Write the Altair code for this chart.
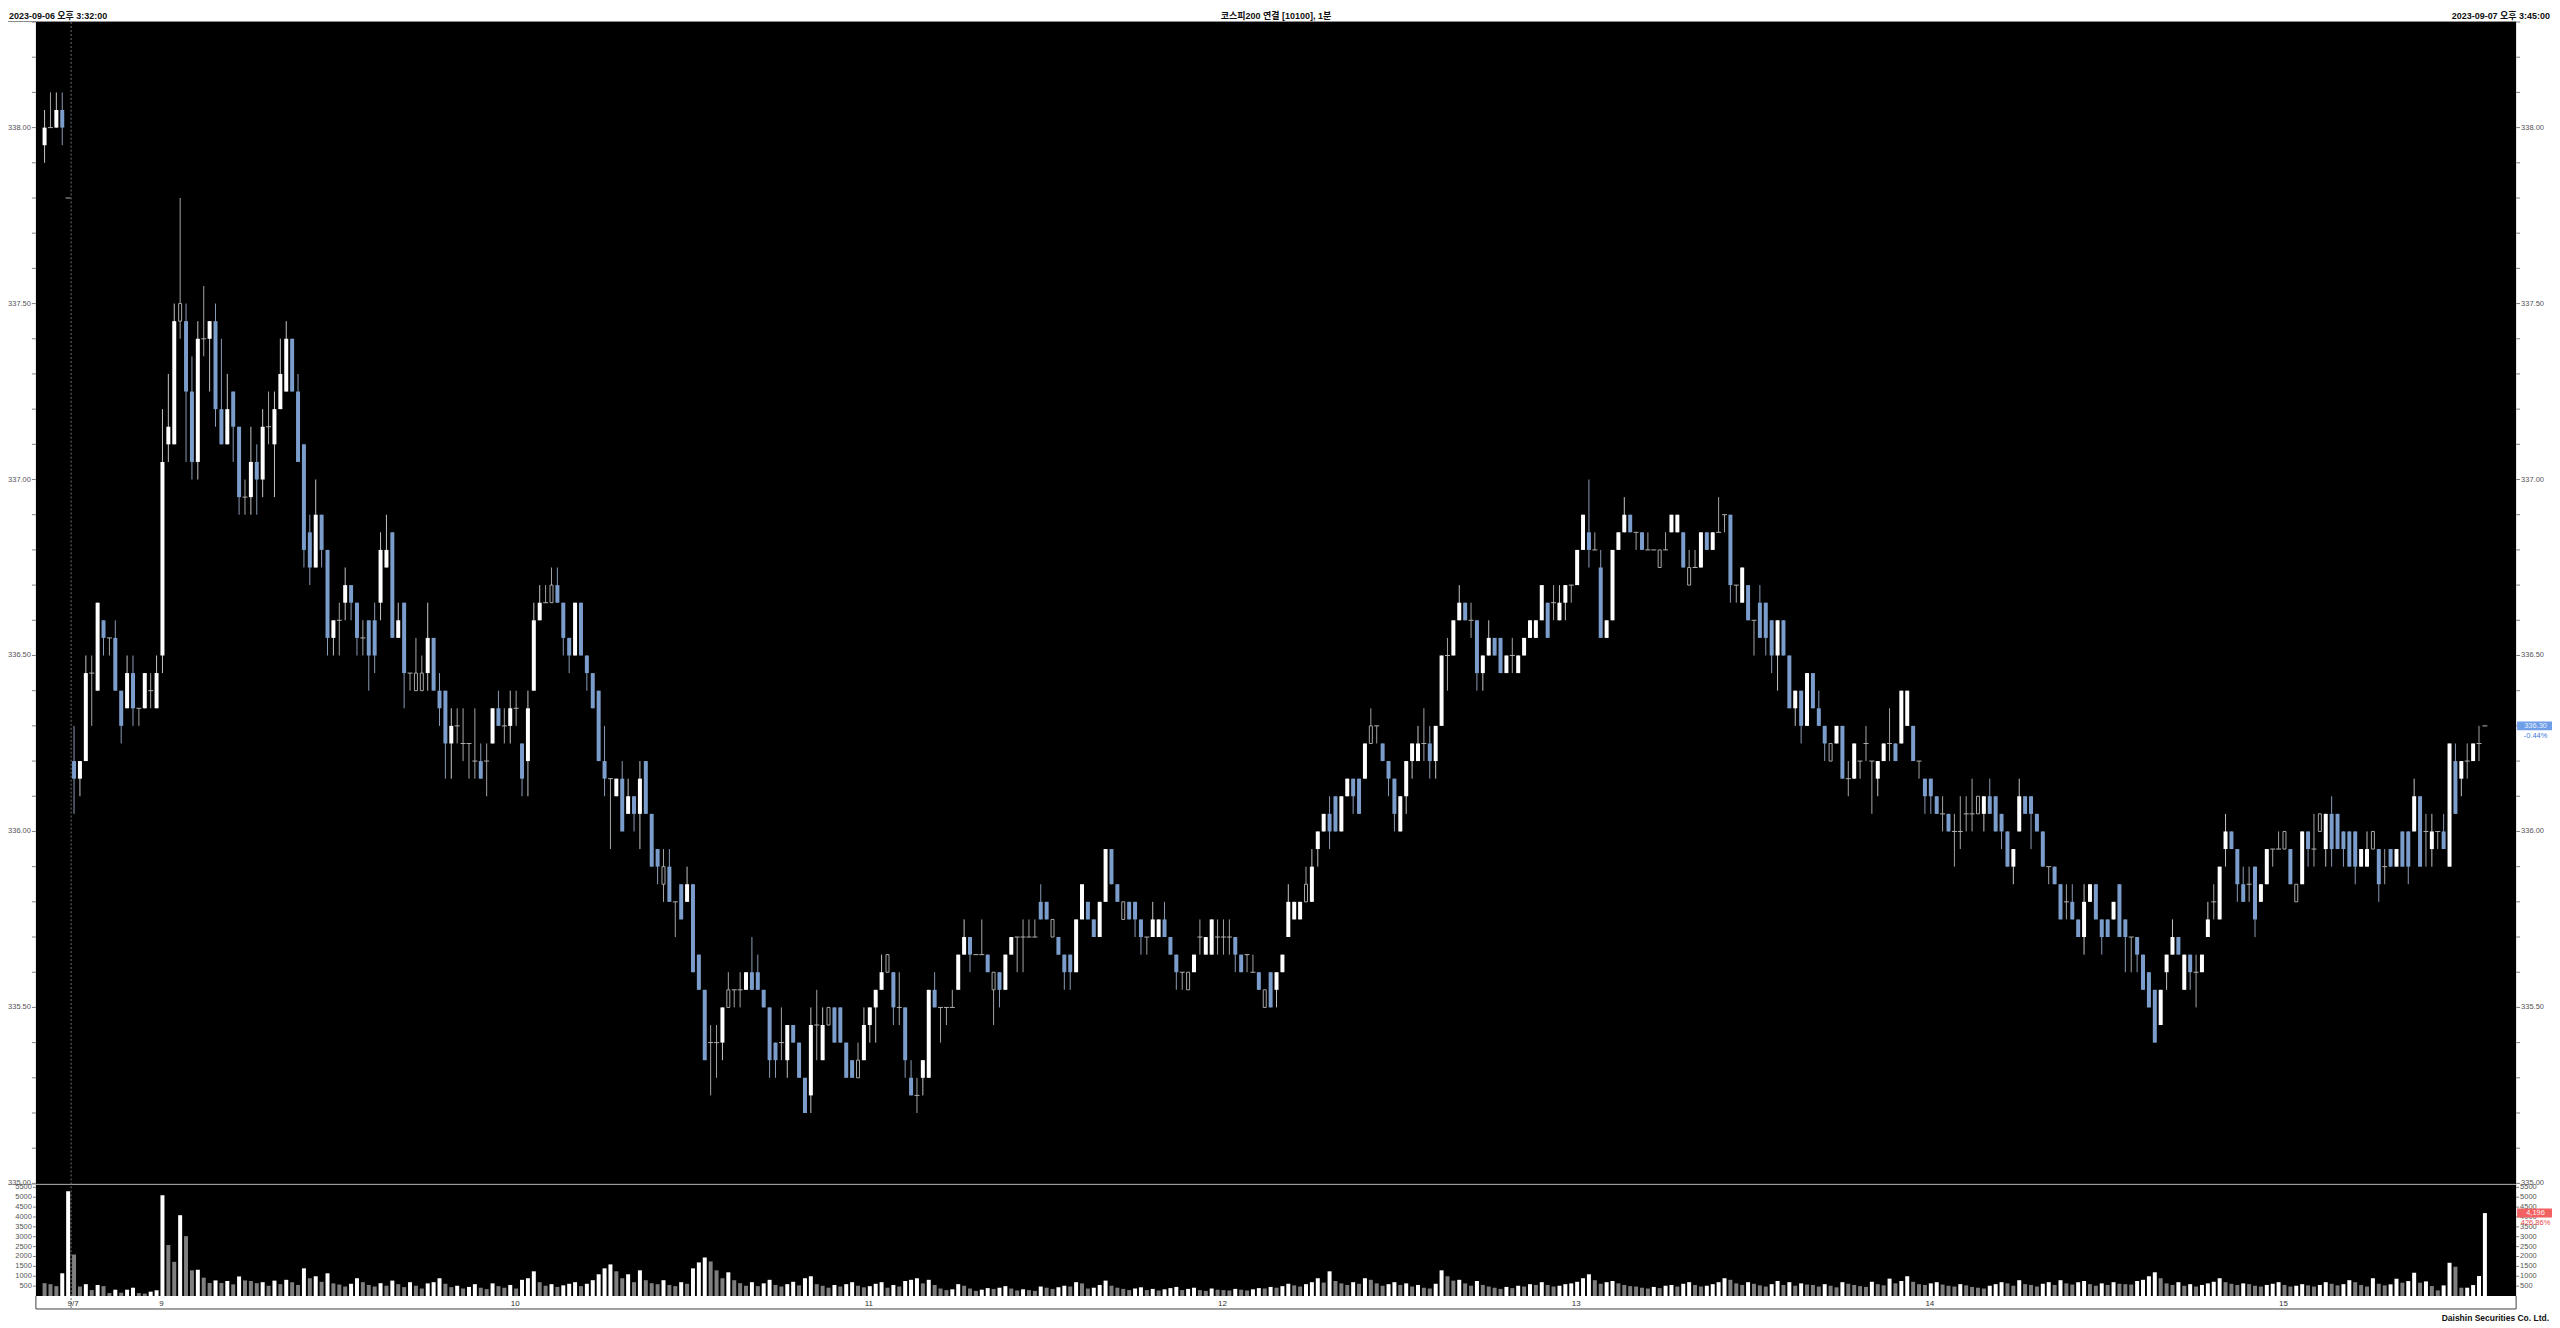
import altair as alt
import pandas as pd

HEADER_LEFT = "2023-09-06 오후 3:32:00"
HEADER_CENTER = "코스피200 연결 [10100], 1분"
HEADER_RIGHT = "2023-09-07 오후 3:45:00"
FOOTER = "Daishin Securities Co. Ltd."
PRICE_CHANGE_LABEL = "-0.44%"
VOLUME_CHANGE_LABEL = "426.86%"

OPEN = [
    337.95, 338.00, 338.00, 338.05, 337.80, 336.20, 336.15, 336.20, 336.45, 336.40,
    336.60, 336.55, 336.55, 336.40, 336.35, 336.45, 336.35, 336.35, 336.40, 336.35,
    336.50, 337.10, 337.10, 337.50, 337.45, 337.25, 337.05, 337.40, 337.40, 337.45,
    337.20, 337.10, 337.25, 337.15, 336.95, 336.95, 337.05, 337.00, 337.15, 337.10,
    337.20, 337.25, 337.40, 337.25, 337.10, 336.85, 336.75, 336.90, 336.80, 336.55,
    336.60, 336.65, 336.70, 336.65, 336.55, 336.60, 336.60, 336.65, 336.75, 336.85,
    336.55, 336.65, 336.45, 336.45, 336.45, 336.45, 336.55, 336.40, 336.40, 336.25,
    336.30, 336.25, 336.25, 336.20, 336.20, 336.20, 336.25, 336.35, 336.30, 336.30,
    336.35, 336.25, 336.20, 336.40, 336.60, 336.65, 336.65, 336.70, 336.65, 336.55,
    336.50, 336.65, 336.50, 336.45, 336.40, 336.20, 336.15, 336.10, 336.15, 336.05,
    336.10, 336.05, 336.20, 336.05, 335.95, 335.90, 335.90, 335.80, 335.85, 335.80,
    335.85, 335.65, 335.55, 335.40, 335.40, 335.40, 335.50, 335.55, 335.55, 335.55,
    335.60, 335.60, 335.55, 335.50, 335.40, 335.40, 335.35, 335.45, 335.40, 335.30,
    335.25, 335.45, 335.35, 335.45, 335.50, 335.50, 335.40, 335.35, 335.30, 335.35,
    335.45, 335.50, 335.55, 335.60, 335.60, 335.50, 335.50, 335.30, 335.25, 335.30,
    335.30, 335.55, 335.50, 335.50, 335.50, 335.55, 335.65, 335.70, 335.65, 335.65,
    335.65, 335.60, 335.60, 335.55, 335.65, 335.70, 335.70, 335.70, 335.70, 335.80,
    335.80, 335.75, 335.70, 335.65, 335.65, 335.60, 335.75, 335.80, 335.75, 335.70,
    335.80, 335.95, 335.85, 335.80, 335.80, 335.80, 335.75, 335.70, 335.70, 335.70,
    335.75, 335.70, 335.65, 335.60, 335.60, 335.60, 335.70, 335.65, 335.65, 335.70,
    335.70, 335.70, 335.70, 335.65, 335.65, 335.60, 335.60, 335.55, 335.60, 335.55,
    335.60, 335.70, 335.75, 335.75, 335.80, 335.80, 335.95, 336.00, 336.05, 336.10,
    336.00, 336.10, 336.15, 336.15, 336.15, 336.30, 336.30, 336.25, 336.20, 336.15,
    336.00, 336.10, 336.20, 336.20, 336.25, 336.25, 336.20, 336.30, 336.50, 336.50,
    336.60, 336.65, 336.60, 336.60, 336.45, 336.50, 336.55, 336.55, 336.45, 336.50,
    336.45, 336.50, 336.55, 336.55, 336.60, 336.65, 336.65, 336.60, 336.65, 336.70,
    336.70, 336.80, 336.85, 336.80, 336.75, 336.55, 336.60, 336.80, 336.85, 336.90,
    336.85, 336.85, 336.80, 336.80, 336.80, 336.80, 336.85, 336.85, 336.85, 336.75,
    336.75, 336.75, 336.85, 336.80, 336.85, 336.90, 336.90, 336.70, 336.65, 336.70,
    336.60, 336.65, 336.65, 336.60, 336.50, 336.60, 336.50, 336.35, 336.40, 336.30,
    336.45, 336.35, 336.30, 336.25, 336.25, 336.30, 336.15, 336.15, 336.20, 336.25,
    336.20, 336.15, 336.20, 336.25, 336.25, 336.25, 336.30, 336.30, 336.20, 336.15,
    336.15, 336.10, 336.05, 336.05, 336.00, 336.00, 336.05, 336.05, 336.10, 336.05,
    336.10, 336.10, 336.05, 336.00, 335.90, 336.00, 336.10, 336.10, 336.05, 336.00,
    335.90, 335.90, 335.85, 335.80, 335.80, 335.75, 335.70, 335.80, 335.85, 335.75,
    335.75, 335.75, 335.85, 335.75, 335.70, 335.70, 335.65, 335.60, 335.55, 335.45,
    335.60, 335.65, 335.70, 335.55, 335.65, 335.60, 335.60, 335.70, 335.80, 335.75,
    335.95, 336.00, 335.95, 335.85, 335.85, 335.90, 335.80, 335.85, 335.95, 335.95,
    335.95, 335.95, 335.85, 335.85, 336.00, 335.95, 336.05, 335.95, 336.05, 336.05,
    336.00, 336.00, 336.00, 335.90, 335.90, 336.00, 335.95, 335.90, 335.95, 335.90,
    336.00, 336.00, 336.00, 336.10, 336.00, 335.95, 336.00, 336.00, 335.90, 336.20,
    336.15, 336.20, 336.20, 336.25, 336.30,
]

HIGH = [
    338.05, 338.10, 338.10, 338.10, 337.80, 336.30, 336.20, 336.50, 336.50, 336.65,
    336.60, 336.55, 336.60, 336.40, 336.50, 336.50, 336.35, 336.45, 336.45, 336.50,
    337.20, 337.30, 337.50, 337.80, 337.50, 337.35, 337.45, 337.55, 337.45, 337.50,
    337.40, 337.30, 337.25, 337.15, 337.00, 337.15, 337.10, 337.20, 337.25, 337.25,
    337.40, 337.45, 337.40, 337.30, 337.10, 336.90, 337.00, 336.90, 336.80, 336.60,
    336.65, 336.75, 336.70, 336.65, 336.60, 336.60, 336.65, 336.85, 336.90, 336.85,
    336.65, 336.65, 336.45, 336.55, 336.50, 336.65, 336.55, 336.45, 336.40, 336.35,
    336.35, 336.35, 336.25, 336.35, 336.25, 336.25, 336.35, 336.40, 336.35, 336.40,
    336.40, 336.25, 336.40, 336.65, 336.70, 336.70, 336.75, 336.75, 336.65, 336.55,
    336.65, 336.65, 336.50, 336.45, 336.40, 336.30, 336.15, 336.15, 336.20, 336.15,
    336.10, 336.20, 336.20, 336.05, 335.95, 335.95, 335.95, 335.80, 335.85, 335.90,
    335.85, 335.65, 335.55, 335.45, 335.45, 335.50, 335.60, 335.55, 335.60, 335.60,
    335.70, 335.65, 335.55, 335.50, 335.40, 335.50, 335.45, 335.45, 335.40, 335.30,
    335.50, 335.55, 335.50, 335.50, 335.50, 335.50, 335.40, 335.35, 335.40, 335.50,
    335.50, 335.55, 335.65, 335.65, 335.60, 335.60, 335.50, 335.35, 335.30, 335.35,
    335.55, 335.60, 335.50, 335.50, 335.55, 335.65, 335.75, 335.70, 335.65, 335.75,
    335.65, 335.60, 335.60, 335.65, 335.70, 335.70, 335.75, 335.75, 335.75, 335.85,
    335.80, 335.75, 335.70, 335.65, 335.65, 335.75, 335.85, 335.80, 335.75, 335.80,
    335.95, 335.95, 335.85, 335.80, 335.80, 335.80, 335.75, 335.70, 335.80, 335.75,
    335.80, 335.70, 335.65, 335.60, 335.60, 335.65, 335.75, 335.70, 335.75, 335.75,
    335.75, 335.75, 335.70, 335.65, 335.65, 335.65, 335.60, 335.55, 335.60, 335.60,
    335.65, 335.85, 335.80, 335.80, 335.90, 335.95, 336.00, 336.05, 336.10, 336.10,
    336.10, 336.15, 336.15, 336.15, 336.25, 336.35, 336.30, 336.25, 336.20, 336.15,
    336.10, 336.20, 336.25, 336.30, 336.35, 336.30, 336.30, 336.50, 336.55, 336.60,
    336.70, 336.65, 336.65, 336.60, 336.50, 336.60, 336.55, 336.55, 336.50, 336.55,
    336.50, 336.55, 336.60, 336.60, 336.70, 336.65, 336.70, 336.70, 336.70, 336.70,
    336.80, 336.90, 337.00, 336.85, 336.80, 336.60, 336.80, 336.85, 336.95, 336.90,
    336.85, 336.85, 336.85, 336.80, 336.80, 336.85, 336.90, 336.90, 336.85, 336.80,
    336.80, 336.85, 336.85, 336.85, 336.95, 336.90, 336.90, 336.70, 336.75, 336.70,
    336.60, 336.70, 336.65, 336.60, 336.60, 336.60, 336.50, 336.40, 336.40, 336.45,
    336.45, 336.40, 336.30, 336.25, 336.30, 336.30, 336.20, 336.25, 336.20, 336.30,
    336.20, 336.20, 336.25, 336.35, 336.25, 336.40, 336.40, 336.30, 336.20, 336.15,
    336.15, 336.10, 336.10, 336.05, 336.05, 336.10, 336.10, 336.15, 336.10, 336.10,
    336.15, 336.10, 336.05, 336.00, 335.95, 336.15, 336.10, 336.10, 336.05, 336.00,
    335.90, 335.90, 335.85, 335.85, 335.85, 335.75, 335.85, 335.85, 335.85, 335.75,
    335.75, 335.80, 335.85, 335.75, 335.70, 335.70, 335.65, 335.60, 335.55, 335.55,
    335.65, 335.75, 335.70, 335.65, 335.65, 335.65, 335.65, 335.80, 335.85, 335.90,
    336.05, 336.00, 335.95, 335.90, 335.90, 335.90, 335.85, 335.95, 335.95, 336.00,
    336.00, 335.95, 335.85, 336.00, 336.00, 336.05, 336.05, 336.05, 336.10, 336.05,
    336.00, 336.00, 336.00, 335.95, 336.00, 336.00, 335.95, 335.95, 335.95, 335.95,
    336.00, 336.00, 336.15, 336.10, 336.05, 336.05, 336.00, 336.05, 336.25, 336.25,
    336.20, 336.25, 336.25, 336.30, 336.30,
]

LOW = [
    337.90, 338.00, 338.00, 337.95, 337.80, 336.05, 336.10, 336.20, 336.30, 336.40,
    336.50, 336.50, 336.40, 336.25, 336.35, 336.30, 336.30, 336.35, 336.35, 336.35,
    336.45, 337.05, 337.10, 337.40, 337.05, 337.00, 337.00, 337.35, 337.25, 337.15,
    337.10, 337.10, 337.05, 336.90, 336.90, 336.90, 336.90, 336.95, 337.10, 336.95,
    337.20, 337.25, 337.25, 337.05, 336.75, 336.70, 336.75, 336.75, 336.50, 336.50,
    336.50, 336.60, 336.60, 336.50, 336.50, 336.40, 336.45, 336.60, 336.75, 336.55,
    336.55, 336.35, 336.40, 336.40, 336.40, 336.40, 336.40, 336.30, 336.15, 336.15,
    336.25, 336.20, 336.15, 336.15, 336.15, 336.10, 336.25, 336.30, 336.25, 336.25,
    336.30, 336.10, 336.10, 336.40, 336.60, 336.65, 336.65, 336.65, 336.50, 336.45,
    336.50, 336.50, 336.40, 336.35, 336.20, 336.10, 335.95, 336.10, 336.00, 336.05,
    336.00, 335.95, 336.05, 335.90, 335.85, 335.80, 335.80, 335.70, 335.75, 335.80,
    335.60, 335.55, 335.35, 335.25, 335.30, 335.35, 335.50, 335.50, 335.50, 335.55,
    335.55, 335.55, 335.50, 335.30, 335.30, 335.35, 335.30, 335.40, 335.30, 335.20,
    335.20, 335.35, 335.35, 335.45, 335.40, 335.40, 335.30, 335.30, 335.30, 335.35,
    335.40, 335.40, 335.55, 335.60, 335.45, 335.45, 335.30, 335.25, 335.20, 335.25,
    335.30, 335.50, 335.40, 335.45, 335.50, 335.55, 335.65, 335.60, 335.65, 335.65,
    335.60, 335.45, 335.50, 335.55, 335.65, 335.60, 335.60, 335.70, 335.70, 335.75,
    335.75, 335.70, 335.65, 335.55, 335.55, 335.60, 335.75, 335.75, 335.70, 335.70,
    335.80, 335.85, 335.80, 335.75, 335.75, 335.70, 335.65, 335.65, 335.70, 335.70,
    335.70, 335.65, 335.55, 335.55, 335.55, 335.60, 335.65, 335.65, 335.65, 335.65,
    335.65, 335.65, 335.60, 335.60, 335.60, 335.60, 335.55, 335.50, 335.50, 335.50,
    335.60, 335.70, 335.75, 335.75, 335.80, 335.80, 335.90, 336.00, 335.95, 336.00,
    336.00, 336.10, 336.05, 336.05, 336.15, 336.25, 336.25, 336.20, 336.10, 336.00,
    336.00, 336.05, 336.15, 336.20, 336.20, 336.15, 336.15, 336.30, 336.40, 336.50,
    336.60, 336.60, 336.55, 336.40, 336.40, 336.50, 336.50, 336.45, 336.45, 336.45,
    336.45, 336.50, 336.55, 336.55, 336.60, 336.55, 336.60, 336.60, 336.60, 336.65,
    336.70, 336.80, 336.75, 336.80, 336.55, 336.55, 336.60, 336.80, 336.85, 336.85,
    336.80, 336.80, 336.80, 336.80, 336.75, 336.80, 336.85, 336.85, 336.75, 336.70,
    336.75, 336.75, 336.80, 336.80, 336.85, 336.85, 336.65, 336.65, 336.65, 336.60,
    336.50, 336.55, 336.50, 336.45, 336.40, 336.50, 336.35, 336.30, 336.25, 336.30,
    336.35, 336.30, 336.20, 336.20, 336.25, 336.15, 336.10, 336.15, 336.15, 336.20,
    336.05, 336.10, 336.20, 336.20, 336.20, 336.25, 336.30, 336.20, 336.15, 336.05,
    336.05, 336.05, 336.00, 336.00, 335.90, 335.95, 336.00, 336.00, 336.05, 336.00,
    336.05, 336.00, 335.95, 335.90, 335.85, 336.00, 336.05, 335.95, 336.00, 335.90,
    335.85, 335.85, 335.75, 335.75, 335.75, 335.70, 335.65, 335.80, 335.75, 335.65,
    335.70, 335.75, 335.70, 335.60, 335.60, 335.60, 335.55, 335.50, 335.40, 335.45,
    335.55, 335.65, 335.65, 335.55, 335.55, 335.50, 335.60, 335.70, 335.75, 335.75,
    335.90, 335.95, 335.80, 335.80, 335.80, 335.70, 335.80, 335.85, 335.90, 335.95,
    335.95, 335.85, 335.80, 335.85, 335.90, 335.90, 336.00, 335.90, 335.90, 335.95,
    335.90, 335.90, 335.85, 335.90, 335.90, 335.95, 335.80, 335.85, 335.90, 335.90,
    335.90, 335.85, 336.00, 335.90, 335.90, 335.90, 335.95, 335.95, 335.90, 336.05,
    336.10, 336.15, 336.20, 336.20, 336.30,
]

CLOSE = [
    338.00, 338.00, 338.05, 338.00, 337.80, 336.15, 336.20, 336.45, 336.45, 336.65,
    336.55, 336.55, 336.40, 336.30, 336.45, 336.35, 336.35, 336.45, 336.40, 336.45,
    337.05, 337.15, 337.45, 337.45, 337.25, 337.05, 337.40, 337.40, 337.45, 337.20,
    337.10, 337.20, 337.15, 336.95, 336.95, 337.05, 337.00, 337.15, 337.15, 337.20,
    337.30, 337.40, 337.25, 337.05, 336.80, 336.75, 336.90, 336.80, 336.55, 336.60,
    336.60, 336.70, 336.65, 336.55, 336.55, 336.50, 336.50, 336.80, 336.80, 336.55,
    336.60, 336.45, 336.45, 336.40, 336.40, 336.55, 336.40, 336.35, 336.25, 336.30,
    336.30, 336.25, 336.25, 336.20, 336.15, 336.20, 336.35, 336.30, 336.30, 336.35,
    336.35, 336.15, 336.35, 336.60, 336.65, 336.65, 336.70, 336.65, 336.55, 336.50,
    336.65, 336.50, 336.45, 336.35, 336.20, 336.15, 336.15, 336.15, 336.00, 336.10,
    336.05, 336.15, 336.05, 335.90, 335.90, 335.85, 335.80, 335.80, 335.75, 335.85,
    335.60, 335.55, 335.35, 335.40, 335.40, 335.50, 335.55, 335.55, 335.55, 335.60,
    335.55, 335.55, 335.50, 335.35, 335.35, 335.40, 335.45, 335.40, 335.30, 335.20,
    335.45, 335.45, 335.45, 335.50, 335.40, 335.40, 335.30, 335.30, 335.35, 335.45,
    335.50, 335.55, 335.60, 335.65, 335.50, 335.50, 335.35, 335.25, 335.25, 335.35,
    335.55, 335.50, 335.50, 335.50, 335.50, 335.65, 335.70, 335.65, 335.65, 335.65,
    335.60, 335.55, 335.55, 335.65, 335.70, 335.70, 335.70, 335.70, 335.70, 335.75,
    335.75, 335.70, 335.65, 335.60, 335.60, 335.75, 335.85, 335.75, 335.70, 335.80,
    335.95, 335.85, 335.80, 335.75, 335.75, 335.75, 335.70, 335.70, 335.75, 335.75,
    335.70, 335.65, 335.60, 335.60, 335.55, 335.65, 335.70, 335.70, 335.75, 335.70,
    335.70, 335.70, 335.65, 335.60, 335.65, 335.60, 335.55, 335.50, 335.50, 335.60,
    335.65, 335.80, 335.80, 335.80, 335.85, 335.90, 336.00, 336.05, 336.00, 336.00,
    336.10, 336.15, 336.10, 336.05, 336.25, 336.25, 336.30, 336.20, 336.15, 336.05,
    336.10, 336.20, 336.25, 336.25, 336.25, 336.20, 336.30, 336.50, 336.50, 336.60,
    336.65, 336.60, 336.60, 336.45, 336.50, 336.55, 336.50, 336.45, 336.50, 336.50,
    336.50, 336.55, 336.60, 336.60, 336.70, 336.55, 336.65, 336.65, 336.70, 336.70,
    336.80, 336.90, 336.80, 336.80, 336.55, 336.60, 336.80, 336.85, 336.90, 336.85,
    336.85, 336.80, 336.80, 336.80, 336.75, 336.80, 336.90, 336.90, 336.75, 336.70,
    336.75, 336.85, 336.80, 336.85, 336.85, 336.90, 336.70, 336.70, 336.75, 336.60,
    336.60, 336.55, 336.55, 336.50, 336.60, 336.50, 336.35, 336.40, 336.30, 336.45,
    336.35, 336.30, 336.25, 336.20, 336.30, 336.15, 336.15, 336.25, 336.20, 336.25,
    336.20, 336.20, 336.25, 336.25, 336.20, 336.40, 336.40, 336.20, 336.20, 336.10,
    336.10, 336.05, 336.05, 336.00, 336.00, 336.00, 336.05, 336.05, 336.05, 336.10,
    336.05, 336.00, 336.00, 335.90, 335.95, 336.10, 336.05, 336.05, 336.00, 335.90,
    335.90, 335.85, 335.75, 335.80, 335.75, 335.70, 335.80, 335.85, 335.75, 335.70,
    335.70, 335.80, 335.70, 335.70, 335.70, 335.65, 335.55, 335.50, 335.40, 335.55,
    335.65, 335.70, 335.65, 335.65, 335.60, 335.60, 335.65, 335.75, 335.80, 335.90,
    336.00, 335.95, 335.85, 335.80, 335.85, 335.75, 335.85, 335.95, 335.95, 335.95,
    336.00, 335.85, 335.80, 336.00, 335.95, 335.95, 336.00, 336.05, 335.95, 335.95,
    335.95, 335.90, 335.90, 335.95, 335.95, 335.95, 335.85, 335.90, 335.90, 335.95,
    335.90, 335.90, 336.10, 335.90, 336.00, 336.00, 336.00, 335.95, 336.25, 336.05,
    336.20, 336.20, 336.25, 336.25, 336.30,
]

VOLUME = [
    650, 600, 500, 1150, 5300, 2100, 480, 600, 300, 560,
    500, 150, 320, 170, 320, 420, 150, 120, 220, 290,
    5100, 2580, 1730, 4090, 3030, 1300, 1330, 930, 660, 790,
    660, 760, 590, 990, 790, 760, 650, 700, 520, 780,
    600, 820, 700, 560, 1400, 900, 1000, 720, 1150, 640,
    580, 480, 620, 900, 700, 560, 480, 650, 520, 780,
    600, 450, 700, 520, 380, 640, 700, 900, 620, 450,
    520, 380, 460, 600, 420, 350, 640, 500, 420, 560,
    380, 820, 900, 1250, 700, 520, 600, 460, 540, 620,
    700, 500, 620, 800, 1100, 1400, 1600, 1250, 900, 1100,
    700, 1300, 800, 650, 600, 800, 560, 500, 700, 620,
    1400, 1700, 1950, 1750, 1300, 900, 1200, 800, 650, 520,
    700, 500, 640, 820, 560, 480, 600, 720, 540, 900,
    1000, 600, 520, 420, 560, 480, 600, 700, 520, 440,
    500, 620, 700, 420, 560, 480, 760, 820, 900, 640,
    820, 560, 380, 300, 340, 600, 520, 380, 260, 320,
    400, 360, 420, 500, 380, 280, 340, 300, 260, 480,
    420, 360, 440, 520, 480, 700, 640, 380, 420, 560,
    780, 520, 420, 360, 300, 380, 440, 300, 360, 280,
    340, 400, 460, 300, 360, 420, 300, 260, 380, 320,
    300, 280, 360, 320, 280, 340, 400, 380, 460, 420,
    500, 620, 540, 480, 600, 700, 900, 680, 1250, 760,
    640, 560, 700, 620, 900, 820, 640, 520, 600, 700,
    560, 640, 480, 560, 420, 380, 620, 1300, 1000, 780,
    820, 640, 520, 760, 560, 480, 420, 360, 460, 400,
    520, 480, 600, 560, 700, 560, 480, 520, 600, 640,
    720, 900, 1100, 800, 620, 700, 760, 640, 560, 500,
    480, 420, 380, 460, 400, 520, 560, 480, 620, 700,
    560, 480, 520, 600, 700, 900, 820, 640, 560, 700,
    620, 540, 480, 600, 760, 560, 700, 520, 640, 580,
    560, 480, 600, 520, 440, 700, 620, 560, 500, 460,
    720, 600, 540, 880, 640, 760, 1000, 720, 600, 560,
    640, 700, 580, 520, 480, 600, 540, 460, 420, 380,
    520, 600, 700, 640, 520, 800, 600, 560, 480, 620,
    700, 560, 800, 640, 580, 700, 760, 600, 520, 640,
    560, 700, 620, 600, 580, 760, 820, 1000, 1200, 900,
    640, 560, 700, 520, 600, 480, 560, 640, 720, 900,
    700, 620, 560, 640, 600, 520, 480, 560, 620, 700,
    560, 480, 520, 600, 540, 480, 560, 700, 620, 540,
    600, 800, 700, 560, 480, 900, 620, 540, 590, 875,
    673, 757, 1178, 673, 740, 505, 286, 538, 1683, 1481,
    420, 420, 555, 1010, 4196,
]

# bars drawn with an outlined (hollow) grey body
HOLLOW = [23, 63, 64, 86, 105, 116, 133, 138, 143, 161, 171, 183, 194, 207,
          214, 225, 274, 279, 303, 328, 380, 382, 386, 395]

# session minutes: 9/6 closing bars, then 9/7 08:45 - 15:33 and the 15:45 close
DAY1_TIMES = ["15:32", "15:33", "15:34", "15:35", "15:45"]
DAY2_TIMES = [f"{t // 60}:{t % 60:02d}" for t in range(8 * 60 + 45, 15 * 60 + 34)] + ["15:45"]
TIMES = DAY1_TIMES + DAY2_TIMES
DATES = ["9/6"] * len(DAY1_TIMES) + ["9/7"] * len(DAY2_TIMES)

PRICE_LABELS = [335.0, 335.5, 336.0, 336.5, 337.0, 337.5, 338.0]
PRICE_TICKS = [round(335.0 + 0.1 * k, 2) for k in range(0, 34)]
VOL_LABELS = [500, 1000, 1500, 2000, 2500, 3000, 3500, 4000, 4500, 5000, 5500]

FONT = "Liberation Sans, Noto Sans CJK KR, sans-serif"
W, H = 2488, 1278
PRICE_Y_RANGE = [1165, 0]
VOL_Y_RANGE = [1278, 1166]

rows = []
prev_v = None
for i in range(len(CLOSE)):
    o, h, l, c, v = OPEN[i], HIGH[i], LOW[i], CLOSE[i], VOLUME[i]
    if i in HOLLOW:
        kind = "hollow"
    elif c > o:
        kind = "up"
    elif c < o:
        kind = "down"
    else:
        kind = "flat"
    vk = "up" if (prev_v is not None and v >= prev_v) else "down"
    prev_v = v
    rows.append(dict(i=i, o=o, h=h, l=l, c=c, v=v, lo=min(o, c), hi=max(o, c),
                     kind=kind, vk=vk, t=TIMES[i], d=DATES[i]))
df = pd.DataFrame(rows)

first_day2 = DATES.index("9/7")
hour_rows = [dict(i=first_day2, lab="9/7")]
for i, (t, d) in enumerate(zip(TIMES, DATES)):
    if d == "9/7" and t.endswith(":00"):
        hour_rows.append(dict(i=i, lab=t.split(":")[0]))
hours_df = pd.DataFrame(hour_rows)
break_df = pd.DataFrame({"i": [first_day2 - 0.5]})

xs = alt.Scale(domain=[-0.623, 418.45], nice=False, zero=False)
ps = alt.Scale(domain=[335.0, 338.3], range=PRICE_Y_RANGE, nice=False, zero=False)
vs = alt.Scale(domain=[0, 5650], range=VOL_Y_RANGE, nice=False, zero=False)
X = alt.X("i:Q", scale=xs, axis=None)

base = alt.Chart(df)


def kind_filter(k):
    return alt.datum.kind == k


wick_colors = {"up": "#c4c4c4", "down": "#8a9bb4", "flat": "#a4a4a4", "hollow": "#a4a4a4"}
layers = []
for k, col in wick_colors.items():
    layers.append(base.transform_filter(kind_filter(k)).mark_rule(color=col, strokeWidth=1).encode(
        x=X, y=alt.Y("l:Q", scale=ps, axis=None), y2="h:Q"))

layers.append(base.transform_filter(kind_filter("up")).mark_bar(size=4, color="#ffffff").encode(
    x=X, y=alt.Y("lo:Q", scale=ps, axis=None), y2="hi:Q"))
layers.append(base.transform_filter(kind_filter("down")).mark_bar(size=4, color="#7b9dcb").encode(
    x=X, y=alt.Y("lo:Q", scale=ps, axis=None), y2="hi:Q"))
layers.append(base.transform_filter(kind_filter("hollow")).mark_bar(
    size=3, fill="#000000", stroke="#a8a8a8", strokeWidth=1).encode(
    x=X, y=alt.Y("lo:Q", scale=ps, axis=None), y2="hi:Q"))
layers.append(base.transform_filter(kind_filter("flat")).mark_tick(
    orient="horizontal", size=5, thickness=1, color="#b0b0b0", opacity=1).encode(
    x=X, y=alt.Y("c:Q", scale=ps, axis=None)))

# volume bars
layers.append(base.transform_filter(alt.datum.vk == "up").mark_bar(size=4, color="#ffffff").encode(
    x=X, y=alt.Y("v:Q", scale=vs, axis=None)))
layers.append(base.transform_filter(alt.datum.vk == "down").mark_bar(size=4, color="#7f7f7f").encode(
    x=X, y=alt.Y("v:Q", scale=vs, axis=None)))

# separators and frame
one = pd.DataFrame({"k": [0]})
layers.append(alt.Chart(one).mark_rule(color="#b4b4b4", strokeWidth=1).encode(
    x=alt.value(-28), x2=alt.value(W), y=alt.value(1166)))
layers.append(alt.Chart(one).mark_rule(color="#8c8c8c", strokeWidth=1).encode(
    x=alt.value(-28), x2=alt.value(W), y=alt.value(-0.5)))
layers.append(alt.Chart(one).mark_rule(color="#404040", strokeWidth=1).encode(
    x=alt.value(0), x2=alt.value(W), y=alt.value(1291)))
layers.append(alt.Chart(one).mark_rule(color="#404040", strokeWidth=1).encode(
    x=alt.value(0), y=alt.value(1278), y2=alt.value(1291)))
layers.append(alt.Chart(one).mark_rule(color="#404040", strokeWidth=1).encode(
    x=alt.value(W), y=alt.value(1278), y2=alt.value(1291)))
layers.append(alt.Chart(break_df).mark_rule(color="#6e6e6e", strokeWidth=1, strokeDash=[2, 2]).encode(
    x=X, y=alt.value(0), y2=alt.value(1291)))

# hour labels
layers.append(alt.Chart(hours_df).mark_text(
    font=FONT, fontSize=8, color="#303030", baseline="middle", align="center", dx=-1).encode(
    x=X, y=alt.value(1286), text="lab:N"))

# price axis ticks and labels (both sides)
ptick = pd.DataFrame({"p": PRICE_TICKS})
plab = pd.DataFrame({"p": PRICE_LABELS})
layers.append(alt.Chart(ptick).mark_rule(color="#808080").encode(
    x=alt.value(-4), x2=alt.value(0), y=alt.Y("p:Q", scale=ps, axis=None)))
layers.append(alt.Chart(ptick).mark_rule(color="#808080").encode(
    x=alt.value(W), x2=alt.value(W + 4), y=alt.Y("p:Q", scale=ps, axis=None)))
layers.append(alt.Chart(plab).mark_text(font=FONT, fontSize=7.5, color="#555555", align="right", baseline="middle").encode(
    x=alt.value(-5), y=alt.Y("p:Q", scale=ps, axis=None), text=alt.Text("p:Q", format=".2f")))
layers.append(alt.Chart(plab).mark_text(font=FONT, fontSize=7.5, color="#555555", align="left", baseline="middle").encode(
    x=alt.value(W + 5), y=alt.Y("p:Q", scale=ps, axis=None), text=alt.Text("p:Q", format=".2f")))

# volume axis
vlab = pd.DataFrame({"v": VOL_LABELS})
layers.append(alt.Chart(vlab).mark_rule(color="#808080").encode(
    x=alt.value(-3), x2=alt.value(0), y=alt.Y("v:Q", scale=vs, axis=None)))
layers.append(alt.Chart(vlab).mark_rule(color="#808080").encode(
    x=alt.value(W), x2=alt.value(W + 3), y=alt.Y("v:Q", scale=vs, axis=None)))
layers.append(alt.Chart(vlab).mark_text(font=FONT, fontSize=7.5, color="#555555", align="right", baseline="middle").encode(
    x=alt.value(-4), y=alt.Y("v:Q", scale=vs, axis=None), text=alt.Text("v:Q", format="d")))
layers.append(alt.Chart(vlab).mark_text(font=FONT, fontSize=7.5, color="#555555", align="left", baseline="middle").encode(
    x=alt.value(W + 4), y=alt.Y("v:Q", scale=vs, axis=None), text=alt.Text("v:Q", format="d")))

# current price / volume markers
last_p = pd.DataFrame({"p": [CLOSE[-1]], "t": [f"{CLOSE[-1]:.2f}"], "chg": [PRICE_CHANGE_LABEL]})
last_v = pd.DataFrame({"v": [VOLUME[-1]], "t": [f"{VOLUME[-1]:,}"], "chg": [VOLUME_CHANGE_LABEL]})
layers.append(alt.Chart(last_p).mark_tick(orient="horizontal", size=37, thickness=9, color="#6f9ee8", opacity=1).encode(
    x=alt.value(W + 19.5), y=alt.Y("p:Q", scale=ps, axis=None)))
layers.append(alt.Chart(last_p).mark_text(font=FONT, fontSize=7.5, color="#e8f0ff", align="center", baseline="middle").encode(
    x=alt.value(W + 19.5), y=alt.Y("p:Q", scale=ps, axis=None), text="t:N"))
layers.append(alt.Chart(last_p).mark_text(font=FONT, fontSize=7.5, color="#3d78d8", align="center", baseline="middle", dy=10).encode(
    x=alt.value(W + 19.5), y=alt.Y("p:Q", scale=ps, axis=None), text="chg:N"))
layers.append(alt.Chart(last_v).mark_tick(orient="horizontal", size=37, thickness=9, color="#f26262", opacity=1).encode(
    x=alt.value(W + 19.5), y=alt.Y("v:Q", scale=vs, axis=None)))
layers.append(alt.Chart(last_v).mark_text(font=FONT, fontSize=7.5, color="#fff0f0", align="center", baseline="middle").encode(
    x=alt.value(W + 19.5), y=alt.Y("v:Q", scale=vs, axis=None), text="t:N"))
layers.append(alt.Chart(last_v).mark_text(font=FONT, fontSize=7.5, color="#e84848", align="center", baseline="middle", dy=10).encode(
    x=alt.value(W + 19.5), y=alt.Y("v:Q", scale=vs, axis=None), text="chg:N"))

# header and footer
def label(txt, x, y, align, size=9.5, weight="bold"):
    return alt.Chart(pd.DataFrame({"t": [txt]})).mark_text(
        font=FONT, fontSize=size, fontWeight=weight, color="#101010", align=align, baseline="middle").encode(
        x=alt.value(x), y=alt.value(y), text="t:N")


layers.append(label(HEADER_LEFT, -27, -6.5, "left", size=9))
layers.append(label(HEADER_CENTER, 1244, -6.5, "center", size=9))
layers.append(label(HEADER_RIGHT, W + 34, -6.5, "right", size=9))
layers.append(label(FOOTER, W + 33, 1300, "right", size=8.5))

chart = alt.layer(*layers).resolve_scale(y="independent").properties(
    width=W, height=H,
    padding={"left": 28, "top": 12, "right": 36, "bottom": 28},
    autosize=alt.AutoSizeParams(type="none"),
    background="#ffffff",
).configure_view(fill="#000000", strokeWidth=0)

chart.save("out.html", embed_options={"renderer": "svg", "actions": False})
